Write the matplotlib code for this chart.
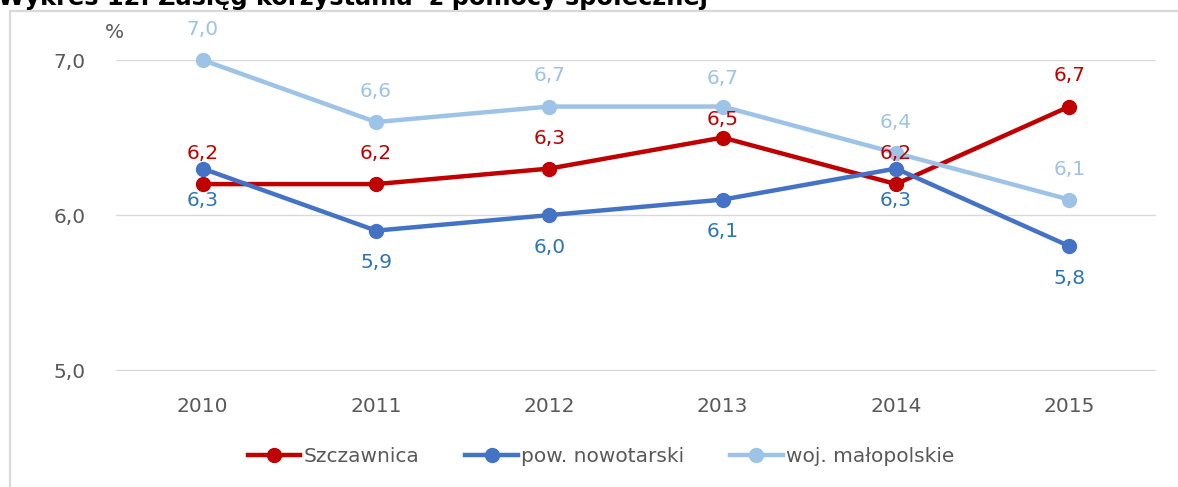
import matplotlib
matplotlib.use("Agg")
import matplotlib.pyplot as plt
from matplotlib.patches import Rectangle

years = [2010, 2011, 2012, 2013, 2014, 2015]
szczawnica = [6.2, 6.2, 6.3, 6.5, 6.2, 6.7]
nowotarski = [6.3, 5.9, 6.0, 6.1, 6.3, 5.8]
malopolskie = [7.0, 6.6, 6.7, 6.7, 6.4, 6.1]
series_names = ["Szczawnica", "pow. nowotarski", "woj. małopolskie"]
yticks = [5.0, 6.0, 7.0]
title = "Wykres 12. Zasięg korzystania  z pomocy społecznej"

plt.rcParams['font.family'] = ['DejaVu Sans']
W, H = 1178, 487
fig = plt.figure(figsize=(W / 100, H / 100), dpi=100)

# frame
fig.patches.append(Rectangle((10 / W, -0.1), 1.2, (H - 11) / H + 0.1, transform=fig.transFigure,
                             fill=False, edgecolor="#D9D9D9", linewidth=1.6))

ax = fig.add_axes([116 / W, 1 - 371 / H, (1156 - 116) / W, (371 - 60) / H])
ax.set_xlim(2009.5, 2015.5)
ax.set_ylim(4.995, 7.0)
for s in ax.spines.values():
    s.set_visible(False)
ax.set_yticks(yticks)
ax.set_yticklabels([f"{v:.1f}".replace(".", ",") for v in yticks])
ax.set_xticks(years)
ax.set_xticklabels([str(y) for y in years])
ax.tick_params(length=0, labelsize=14.5, labelcolor="#595959")
ax.tick_params(axis='y', pad=22)
ax.tick_params(axis='x', pad=19)
ax.grid(axis='y', color="#D9D9D9", linewidth=1)
ax.set_axisbelow(True)

colors = ["#C00000", "#4472C4", "#9DC3E6"]
label_colors = ["#C00000", "#2E75B6", "#9DC3E6"]
offsets = [22, -23, 22]
special_offsets = {(0, 2013): 13, (2, 2013): 20}
data = [szczawnica, nowotarski, malopolskie]
order = [2, 0, 1]
for i in order:
    ax.plot(years, data[i], color=colors[i], linewidth=3.2, marker='o', markersize=10,
            label=series_names[i], clip_on=False, zorder=3 + i)
for i in range(3):
    for x, v in zip(years, data[i]):
        off = special_offsets.get((i, x), offsets[i])
        ax.annotate(f"{v:.1f}".replace(".", ","), (x, v), xytext=(0, off),
                    textcoords="offset points", ha="center", va="center",
                    fontsize=14.5, color=label_colors[i], zorder=10)

ax.text(105 / W, 1 - 32 / H, "%", transform=fig.transFigure, fontsize=14.5,
        color="#595959", ha="left", va="center")

handles, labels = ax.get_legend_handles_labels()
hmap = dict(zip(labels, handles))
leg = fig.legend([hmap[n] for n in series_names], series_names, loc="center",
                 bbox_to_anchor=(601 / W, 1 - 457 / H), ncol=3, frameon=False,
                 fontsize=14.5, handlelength=2.6, handletextpad=0.15, columnspacing=2.3,
                 labelcolor="#595959")

t = fig.text(-2 / W, 1 - 5 / H, title, fontsize=15, fontweight="bold", color="black",
             ha="left", va="baseline")
fig.canvas.draw()
wpx = t.get_window_extent().width
t.set_fontsize(15 * 712 / wpx)

fig.savefig("out.png", dpi=100)
